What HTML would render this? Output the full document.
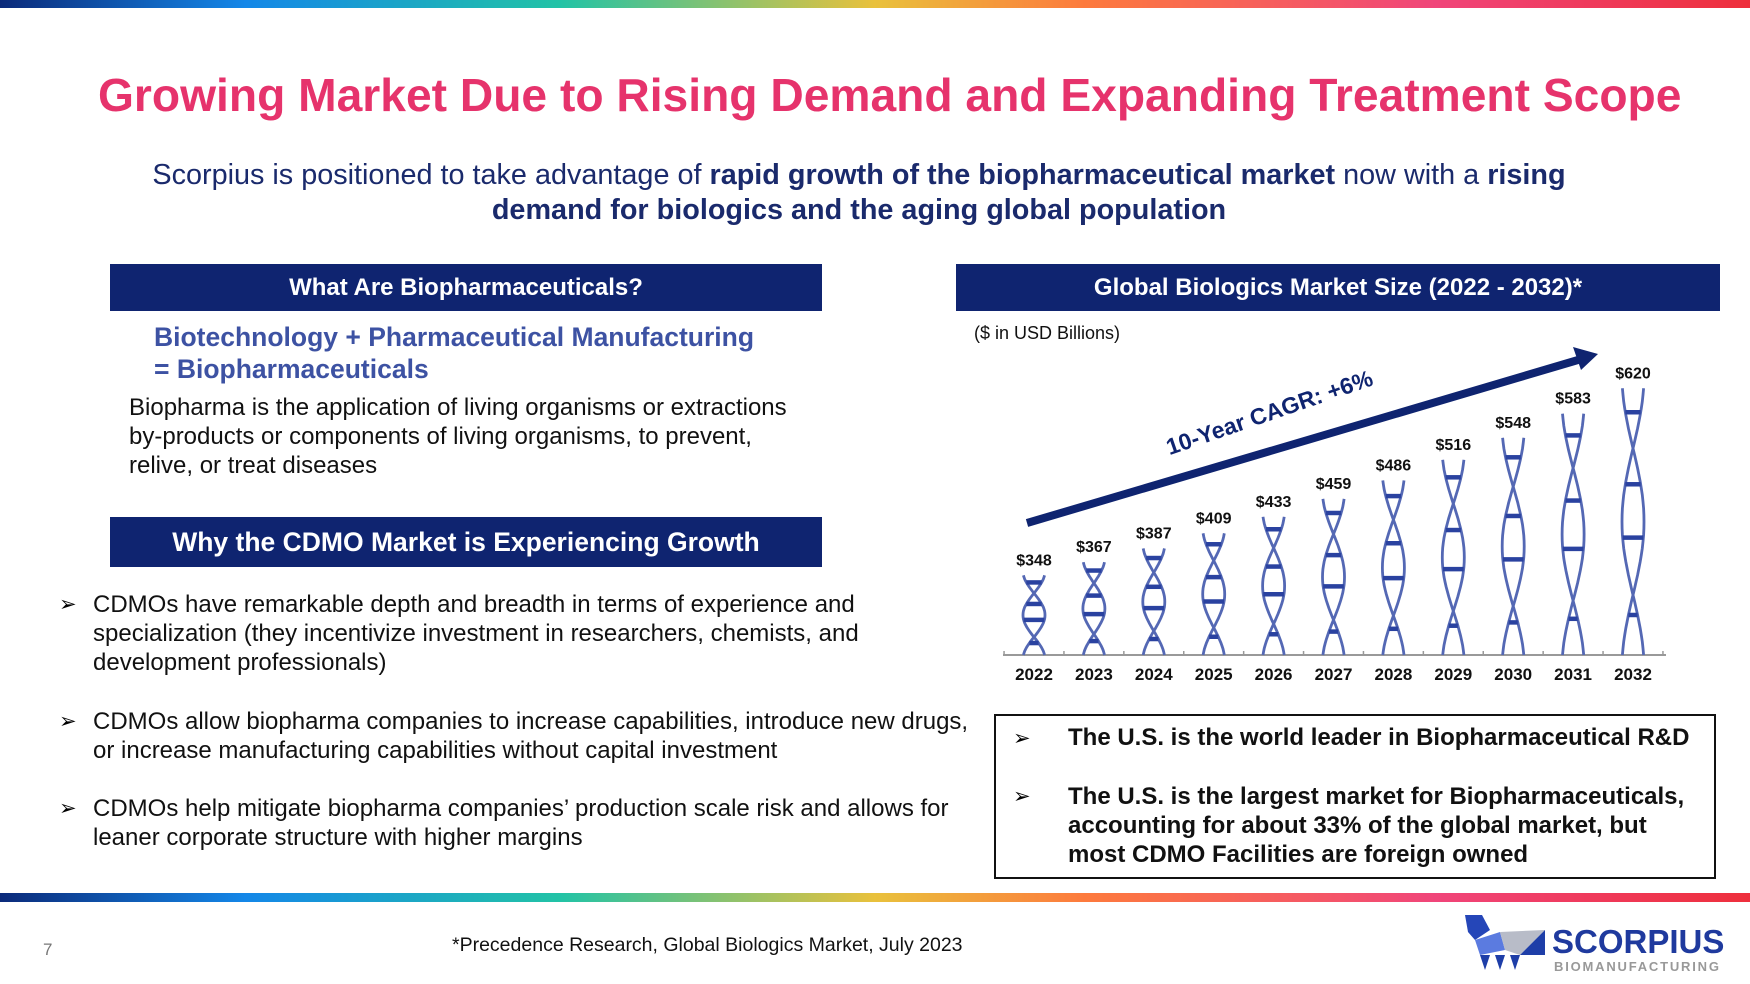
<!DOCTYPE html>
<html><head><meta charset="utf-8">
<style>
*{margin:0;padding:0;box-sizing:border-box}
body{width:1750px;height:984px;background:#fff;position:relative;overflow:hidden;font-family:"Liberation Sans",Arial,sans-serif}
.abs{position:absolute}
.grad{background:linear-gradient(90deg,#0b2a7a 0%,#1487e8 14%,#22c3a6 32%,#e9c13c 50%,#fd7a3d 62%,#f0457a 82%,#ee2f3c 100%)}
.hdr{background:#0f2470;color:#fff;font-weight:bold;font-size:24px;display:flex;align-items:center;justify-content:center}
.t{font-size:24px;color:#111;line-height:29px;white-space:nowrap}
.bul{position:absolute;left:59px;font-size:21px}
</style></head><body>
<div class="abs grad" style="left:0;top:0;width:1750px;height:8px"></div>
<div class="abs" style="left:98px;top:68px;font-size:46.2px;font-weight:bold;color:#e6336c;white-space:nowrap">Growing Market Due to Rising Demand and Expanding Treatment Scope</div>
<div class="abs" style="left:-16px;top:158px;width:1750px;text-align:center;font-size:28.8px;line-height:35px;color:#1a2a6c;white-space:nowrap">Scorpius is positioned to take advantage of <b>rapid growth of the biopharmaceutical market</b> now with a <b>rising<br>demand for biologics and the aging global population</b></div>

<div class="abs hdr" style="left:110px;top:264px;width:712px;height:47px">What Are Biopharmaceuticals?</div>
<div class="abs" style="left:154px;top:321px;font-size:26.5px;line-height:32px;font-weight:bold;color:#3d52a3;white-space:nowrap">Biotechnology + Pharmaceutical Manufacturing<br>= Biopharmaceuticals</div>
<div class="abs t" style="left:129px;top:393px">Biopharma is the application of living organisms or extractions<br>by-products or components of living organisms, to prevent,<br>relive, or treat diseases</div>

<div class="abs hdr" style="left:110px;top:517px;width:712px;height:50px;font-size:26.5px">Why the CDMO Market is Experiencing Growth</div>
<div class="abs bul" style="top:592px">➢</div>
<div class="abs t" style="left:93px;top:590px">CDMOs have remarkable depth and breadth in terms of experience and<br>specialization (they incentivize investment in researchers, chemists, and<br>development professionals)</div>
<div class="abs bul" style="top:709px">➢</div>
<div class="abs t" style="left:93px;top:707px">CDMOs allow biopharma companies to increase capabilities, introduce new drugs,<br>or increase manufacturing capabilities without capital investment</div>
<div class="abs bul" style="top:796px">➢</div>
<div class="abs t" style="left:93px;top:794px">CDMOs help mitigate biopharma companies’ production scale risk and allows for<br>leaner corporate structure with higher margins</div>

<div class="abs hdr" style="left:956px;top:264px;width:764px;height:47px">Global Biologics Market Size (2022 - 2032)*</div>
<div class="abs" style="left:974px;top:323px;font-size:18px;color:#111">($ in USD Billions)</div>

<svg class="abs" id="chart" style="left:0;top:0" width="1750" height="984"></svg>

<div class="abs" style="left:994px;top:714px;width:722px;height:165px;border:2px solid #111"></div>
<div class="abs" style="left:1013px;top:726px;font-size:21px">➢</div>
<div class="abs" style="left:1068px;top:724px;font-size:24px;font-weight:bold;color:#111;white-space:nowrap">The U.S. is the world leader in Biopharmaceutical R&amp;D</div>
<div class="abs" style="left:1013px;top:784px;font-size:21px">➢</div>
<div class="abs" style="left:1068px;top:782px;font-size:24px;line-height:29px;font-weight:bold;color:#111;white-space:nowrap">The U.S. is the largest market for Biopharmaceuticals,<br>accounting for about 33% of the global market, but<br>most CDMO Facilities are foreign owned</div>

<div class="abs grad" style="left:0;top:893px;width:1750px;height:9px"></div>
<div class="abs" style="left:43px;top:940px;font-size:17px;color:#777">7</div>
<div class="abs" style="left:452px;top:934px;font-size:19.5px;color:#111">*Precedence Research, Global Biologics Market, July 2023</div>
<svg class="abs" style="left:1460px;top:910px" width="290" height="70">
<polygon points="5,5 22,5 30,20 15,30 8,22" fill="#2546b8"/>
<polygon points="15,30 40,22 45,40 20,45" fill="#5b7be0"/>
<polygon points="40,22 85,20 60,45 45,40" fill="#b8bcc8"/>
<polygon points="60,45 85,20 85,45" fill="#1e3ea8"/>
<polygon points="20,45 30,45 25,60" fill="#1e3ea8"/>
<polygon points="35,45 45,45 40,60" fill="#1e3ea8"/>
<polygon points="50,45 60,45 55,60" fill="#1e3ea8"/>
<text x="92" y="43" font-family="Liberation Sans" font-weight="bold" font-size="33" fill="#1f3a9e">SCORPIUS</text>
<text x="94" y="61" font-family="Liberation Sans" font-weight="bold" font-size="13" fill="#999" letter-spacing="1.8">BIOMANUFACTURING</text>
</svg>

<script>
const years=["2022","2023","2024","2025","2026","2027","2028","2029","2030","2031","2032"];
const values=[348,367,387,409,433,459,486,516,548,583,620];
const valueLabels=["$348","$367","$387","$409","$433","$459","$486","$516","$548","$583","$620"];
const NS="http://www.w3.org/2000/svg";
const svg=document.getElementById('chart');
const x0=1034,dx=59.9,base=655;
function xPos(i){return x0+i*dx;}
function yPos(v){return base-0.6875*(v-232);}
function mk(tag,attrs){const e=document.createElementNS(NS,tag);for(const k in attrs)e.setAttribute(k,attrs[k]);svg.appendChild(e);return e;}
const ax=mk('line',{x1:1003,y1:base,x2:1666,y2:base,stroke:'#999','stroke-width':2});


for(let i=0;i<=years.length;i++){const tx=xPos(i)-dx/2;const tk=mk('line',{x1:tx,y1:base-4,x2:tx,y2:base+1,stroke:'#999','stroke-width':1.5});

}
years.forEach((yr,i)=>{
 const cx=xPos(i),top=yPos(values[i]),h=base-top,w=22;
 const g=document.createElementNS(NS,'g');svg.appendChild(g);
 
 
 for(const s of [1,-1]){let d='';for(let k=0;k<=40;k++){const t=k/40;const xx=cx+s*w/2*Math.cos(2*Math.PI*(t-0.5)/1.1);d+=(k?'L':'M')+xx.toFixed(1)+','+(top+t*h).toFixed(1);}
  const p=document.createElementNS(NS,'path');p.setAttribute('d',d);p.setAttribute('fill','none');p.setAttribute('stroke','#5468b4');p.setAttribute('stroke-width','2.8');g.appendChild(p);}
 for(const t of [0.09,0.36,0.56,0.85]){const hw=w/2*Math.abs(Math.cos(2*Math.PI*(t-0.5)/1.1));const r=document.createElementNS(NS,'line');r.setAttribute('x1',cx-hw);r.setAttribute('x2',cx+hw);r.setAttribute('y1',top+t*h);r.setAttribute('y2',top+t*h);r.setAttribute('stroke','#2a42a0');r.setAttribute('stroke-width','4.5');g.appendChild(r);}
 const vl=mk('text',{x:cx,y:top-10,'text-anchor':'middle','font-family':'Liberation Sans','font-weight':'bold','font-size':16,fill:'#111'});vl.textContent=valueLabels[i];
 
 
 const yl=mk('text',{x:cx,y:680,'text-anchor':'middle','font-family':'Liberation Sans','font-weight':'bold','font-size':17,fill:'#111'});yl.textContent=yr;
 
 
});
const ar=mk('line',{x1:1027,y1:523,x2:1578,y2:360,stroke:'#0f2470','stroke-width':8});


const ah=mk('polygon',{points:'1598,354 1573,347 1581,370',fill:'#0f2470'});


const ct=mk('text',{x:1272,y:420,'text-anchor':'middle','font-family':'Liberation Sans','font-weight':'bold','font-size':23,fill:'#0f2470',transform:'rotate(-19 1272 420)'});ct.textContent='10-Year CAGR: +6%';


</script>
</body></html>
